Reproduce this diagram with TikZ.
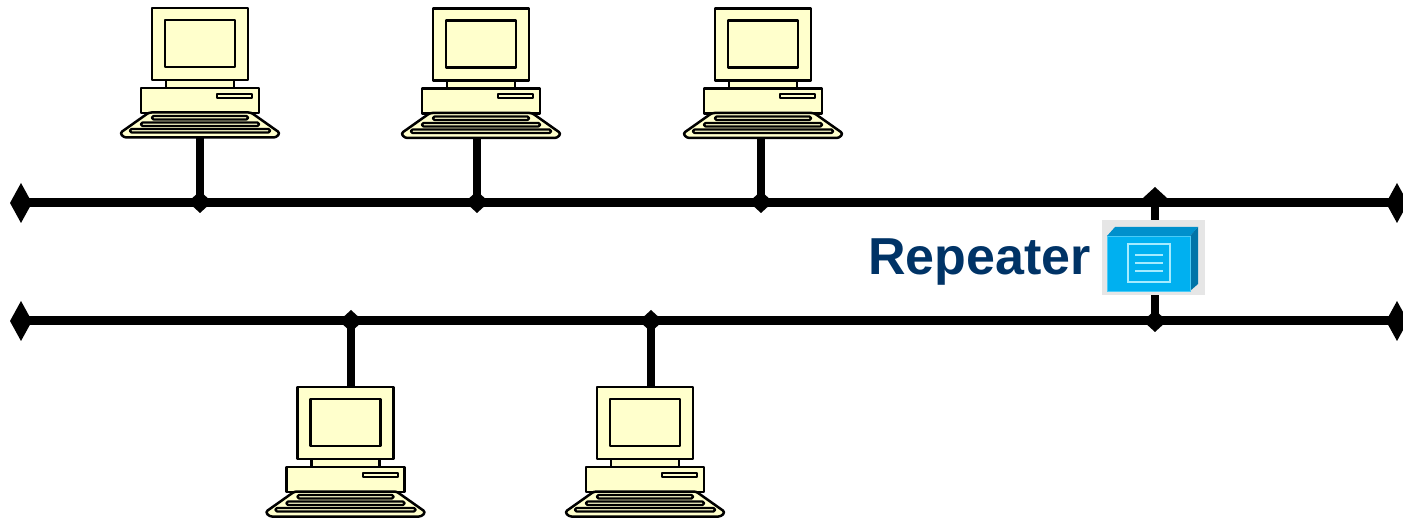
\documentclass[tikz,border=0pt]{standalone}
\usepackage{fontspec}
\setmainfont{Liberation Sans}
\usetikzlibrary{arrows.meta}

\definecolor{pcfill}{HTML}{FFFFCC}
\definecolor{labelblue}{HTML}{003366}
\definecolor{repfront}{HTML}{00B0F0}
\definecolor{reptop}{HTML}{0090CC}
\definecolor{repside}{HTML}{0074A8}
\definecolor{repdoc}{HTML}{A5EBFF}
\definecolor{repbg}{HTML}{E6E6E6}

\tikzset{
  pcpart/.style={draw=black, fill=pcfill, line width=2.5pt, line join=round},
  keyrow/.style={pcpart, line width=2.2pt, rounded corners=1.5pt},
  endtip/.tip={Diamond[length=22pt,width=40pt,line width=0pt]},
  junc/.tip={Diamond[length=22pt,width=24pt,line width=0pt]},
  bus/.style={line width=9pt, endtip-endtip},
  tap/.style={line width=8pt},
  computer/.pic={
    \coordinate (-top) at (0,0);
    \coordinate (-kb) at (0,129);
    % neck, monitor and screen
    \path[pcpart] (-34,70) rectangle (34,81);
    \path[pcpart] (-48,0) rectangle (48,72);
    \path[pcpart] (-35,12) rectangle (35,59);
    % system unit with drive slot
    \path[pcpart] (-59,80) rectangle (59,105);
    \path[pcpart, line width=2pt] (17,86) rectangle (52,90);
    % keyboard with three key rows
    \path[pcpart, rounded corners=2.5pt] (-51,104.5) -- (51,104.5) -- (80,125) -- (76,129.5) -- (-76,129.5) -- (-80,125) -- cycle;
    \path[keyrow] (-48,108) rectangle (48,111.5);
    \path[keyrow] (-59,114.5) rectangle (59,118);
    \path[keyrow] (-70,121) rectangle (70,124.5);
  }
}

\begin{document}
\begin{tikzpicture}[x=1pt, y=-1pt]
  \useasboundingbox (0,0) rectangle (1403,518);

  % the two bus segments
  \coordinate (ta) at (10,203);
  \coordinate (tb) at (1408,203);
  \coordinate (ba) at (10,321);
  \coordinate (bb) at (1408,321);
  \draw[bus] (ta) -- (tb);
  \draw[bus] (ba) -- (bb);

  % stations on the upper segment
  \pic (pc1) at (200,8) {computer};
  \pic (pc2) at (481,8.5) {computer};
  \pic (pc3) at (763,8.5) {computer};
  \coordinate (j1) at (200,213);
  \coordinate (j2) at (477,213);
  \coordinate (j3) at (761,213);
  \draw[tap, -junc] (j1 |- pc1-kb) -- (j1);
  \draw[tap, -junc] (j2 |- pc2-kb) -- (j2);
  \draw[tap, -junc] (j3 |- pc3-kb) -- (j3);

  % stations on the lower segment
  \pic (pc4) at (345.5,387) {computer};
  \pic (pc5) at (645,387) {computer};
  \coordinate (j4) at (351,310);
  \coordinate (j5) at (651,310);
  \draw[tap, junc-] (j4) -- (j4 |- pc4-top);
  \draw[tap, junc-] (j5) -- (j5 |- pc5-top);

  % repeater joining the two segments
  \coordinate (rt) at (1155,187);
  \coordinate (rb) at (1155,332);
  \draw[tap, junc-junc] (rt) -- (rb);

  \node[fill=repbg, inner sep=0, minimum width=103pt, minimum height=75pt] (rep) at (1153.5,257.5) {};
  \begin{scope}[shift={(rep.center)}]
    \fill[reptop] (-46.5,-21.5) -- (-38.5,-30.5) -- (44.5,-30.5) -- (36.5,-21.5) -- cycle;
    \fill[repside] (36.5,-21.5) -- (44.5,-30.5) -- (44.5,26.5) -- (36.5,33.5) -- cycle;
    \path[fill=repfront, draw=repdoc!45!repfront, line width=0.8pt] (-46.5,-21.5) rectangle (36.5,33.5);
    \draw[repdoc, line width=1.5pt] (-25.5,-13.5) rectangle (16.5,24.5);
    \draw[repdoc, line width=1.5pt] (-18.5,-2.5) -- (9.5,-2.5);
    \draw[repdoc, line width=1.5pt] (-18.5,5.5) -- (9.5,5.5);
    \draw[repdoc, line width=1.5pt] (-18.5,13.5) -- (9.5,13.5);
  \end{scope}

  \node[anchor=base east, inner sep=0, text=labelblue,
        font=\bfseries\fontsize{52}{52}\selectfont] (replabel) at (1091,275) {Repeater};
\end{tikzpicture}
\end{document}
